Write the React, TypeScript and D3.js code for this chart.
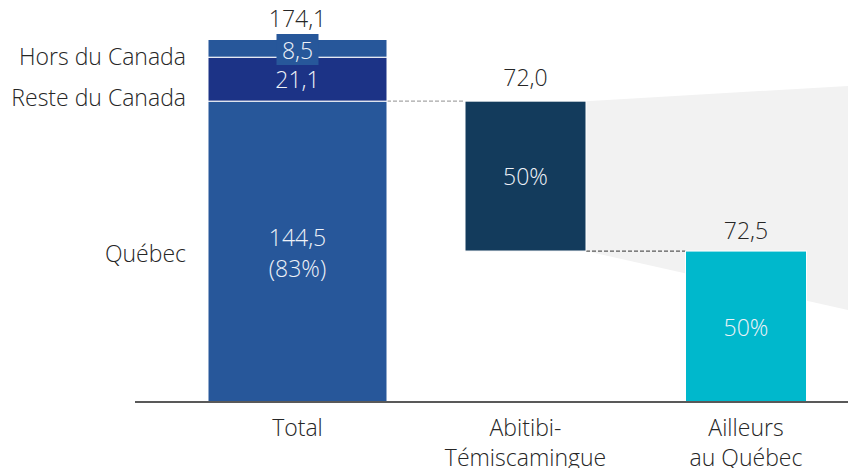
import React from "react";
import * as d3 from "d3";

// ---- data ----
const categories = ["Total", "Abitibi-Témiscamingue", "Ailleurs au Québec"];
const categoryLines = [["Total"], ["Abitibi-", "Témiscamingue"], ["Ailleurs", "au Québec"]];
const segmentNames = ["Québec", "Reste du Canada", "Hors du Canada"];
const segmentValues = [144.5, 21.1, 8.5];
const segmentLabels = ["144,5", "21,1", "8,5"];
const quebecShare = "(83%)";
const totalValue = 174.1;
const totalLabel = "174,1";
const splitValues = [72.0, 72.5]; // Abitibi-Témiscamingue, Ailleurs au Québec
const splitLabels = ["72,0", "72,5"];
const splitShares = ["50%", "50%"];

const W = 848;
const H = 468;
const FONT = "'Open Sans', sans-serif";
const FS = 23;

export default function App() {
  const y = d3.scaleLinear().domain([0, totalValue]).range([402, 39.5]);
  const x = d3.scaleOrdinal<string, number>().domain(categories).range([297.5, 525.5, 746]);
  const wideW = 179;
  const narrowW = 121;

  const cum = d3.cumsum(segmentValues);
  const segColors = ["#27579a", "#1c3386", "#27579a"];
  const totalX = x(categories[0]) - wideW / 2;

  const quebecTop = segmentValues[0];
  const abX = x(categories[1]) - narrowW / 2;
  const abBottom = quebecTop - splitValues[0];
  const aiX = x(categories[2]) - narrowW / 2;

  const dark = "#262626";
  const light = "#eef2f8";

  return (
    <svg
      width={W}
      height={H}
      style={{ position: "absolute", left: 0, top: 0, fontFamily: FONT, fontWeight: 300 }}
    >
      {/* grey fan */}
      <polygon
        points={`${abX + narrowW},${y(quebecTop)} ${W},86 ${W},310 ${abX + narrowW},${y(abBottom)}`}
        fill="#f2f2f2"
      />
      {/* connectors */}
      <line
        x1={totalX + wideW}
        x2={abX}
        y1={y(quebecTop)}
        y2={y(quebecTop)}
        stroke="#a6a6a6"
        strokeWidth={1.2}
        strokeDasharray="4,2"
      />
      <line
        x1={abX + narrowW}
        x2={aiX}
        y1={y(abBottom)}
        y2={y(abBottom)}
        stroke="#595959"
        strokeWidth={1.2}
        strokeDasharray="4,2"
      />
      {/* total stack */}
      {segmentValues.map((v, i) => {
        const top = cum[i];
        const bottom = top - v;
        return (
          <rect
            key={i}
            x={totalX}
            width={wideW}
            y={y(top)}
            height={y(bottom) - y(top)}
            fill={segColors[i]}
            stroke="#ffffff"
            strokeWidth={1}
          />
        );
      })}
      {/* Abitibi */}
      <rect
        x={abX}
        width={narrowW}
        y={y(quebecTop)}
        height={y(abBottom) - y(quebecTop)}
        fill="#133b5c"
        stroke="#ffffff"
        strokeWidth={1}
      />
      {/* Ailleurs */}
      <rect
        x={aiX}
        width={narrowW}
        y={y(splitValues[1])}
        height={y(0) - y(splitValues[1])}
        fill="#00b8cc"
        stroke="#ffffff"
        strokeWidth={1}
      />
      {/* axis */}
      <line x1={135} x2={W} y1={y(0)} y2={y(0)} stroke="#595959" strokeWidth={2} />

      {/* segment labels inside total */}
      <text x={x(categories[0])} y={237} textAnchor="middle" dominantBaseline="central" fontSize={FS} fill={light}>
        {segmentLabels[0]}
      </text>
      <text x={x(categories[0])} y={268} textAnchor="middle" dominantBaseline="central" fontSize={FS} fill={light}>
        {quebecShare}
      </text>
      <text
        x={x(categories[0])}
        y={(y(cum[1]) + y(cum[0])) / 2}
        textAnchor="middle"
        dominantBaseline="central"
        fontSize={FS}
        fill={light}
      >
        {segmentLabels[1]}
      </text>
      <rect x={x(categories[0]) - 21} y={34} width={42} height={31} fill={segColors[2]} />
      <text x={x(categories[0])} y={50} textAnchor="middle" dominantBaseline="central" fontSize={FS} fill={light}>
        {segmentLabels[2]}
      </text>
      <text x={x(categories[0])} y={y(totalValue) - 22} textAnchor="middle" dominantBaseline="central" fontSize={FS} fill={dark}>
        {totalLabel}
      </text>

      {/* legend-like labels */}
      <text x={186} y={56} textAnchor="end" dominantBaseline="central" fontSize={FS} fill={dark}>
        {segmentNames[2]}
      </text>
      <text x={186} y={97} textAnchor="end" dominantBaseline="central" fontSize={FS} fill={dark}>
        {segmentNames[1]}
      </text>
      <text x={186} y={253} textAnchor="end" dominantBaseline="central" fontSize={FS} fill={dark}>
        {segmentNames[0]}
      </text>

      {/* split labels */}
      <text x={x(categories[1])} y={y(quebecTop) - 24} textAnchor="middle" dominantBaseline="central" fontSize={FS} fill={dark}>
        {splitLabels[0]}
      </text>
      <text x={x(categories[1])} y={(y(quebecTop) + y(abBottom)) / 2} textAnchor="middle" dominantBaseline="central" fontSize={FS} fill={light}>
        {splitShares[0]}
      </text>
      <text x={x(categories[2])} y={y(splitValues[1]) - 21} textAnchor="middle" dominantBaseline="central" fontSize={FS} fill={dark}>
        {splitLabels[1]}
      </text>
      <text x={x(categories[2])} y={(y(splitValues[1]) + y(0)) / 2} textAnchor="middle" dominantBaseline="central" fontSize={FS} fill={light}>
        {splitShares[1]}
      </text>

      {/* category labels */}
      {categoryLines.map((lines, i) =>
        lines.map((t, j) => (
          <text
            key={`${i}-${j}`}
            x={x(categories[i])}
            y={427 + j * 30}
            textAnchor="middle"
            dominantBaseline="central"
            fontSize={FS}
            fill={dark}
          >
            {t}
          </text>
        ))
      )}
    </svg>
  );
}
